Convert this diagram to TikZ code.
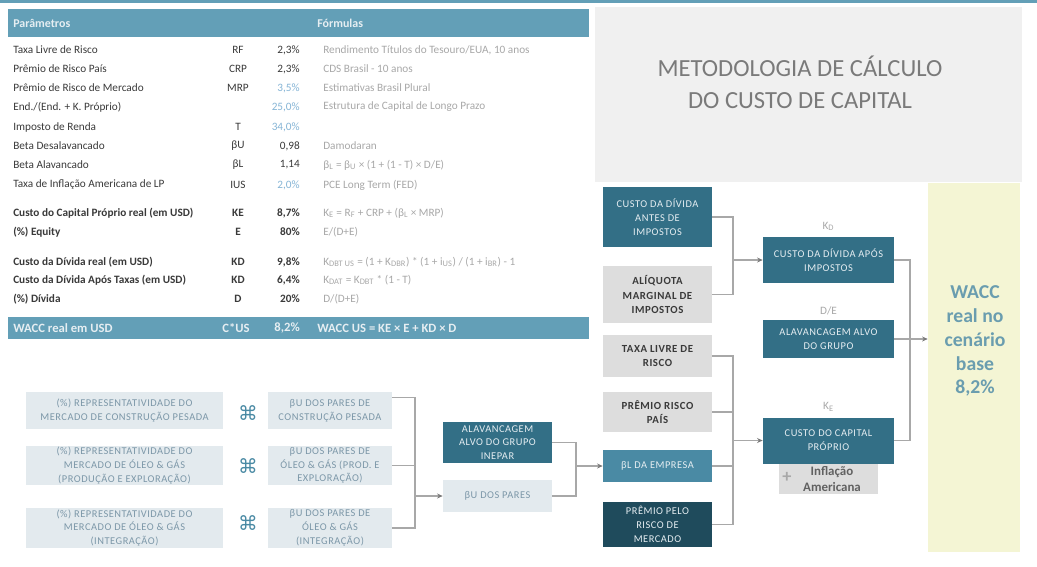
\documentclass[tikz,border=0pt]{standalone}
\usepackage{fontspec}
\setmainfont{Carlito}
\newfontfamily\symfont{DejaVu Sans}
\newfontfamily\boxfont{Carlito}[LetterSpace=5]
\usepackage{tikz}
\usetikzlibrary{positioning,arrows.meta}

\definecolor{tealhd}{HTML}{639FB7}
\definecolor{tealdk}{HTML}{336F86}
\definecolor{tealmd}{HTML}{4A8AA4}
\definecolor{tealnv}{HTML}{1F4B5C}
\definecolor{boxgrey}{HTML}{DDDDDD}
\definecolor{boxpale}{HTML}{E3EAEE}
\definecolor{waccbg}{HTML}{F4F5D4}
\definecolor{waccfg}{HTML}{6A9DAF}
\definecolor{titlebg}{HTML}{F0F0F0}
\definecolor{titlefg}{HTML}{7A7A7A}
\definecolor{linegrey}{HTML}{A8A8A8}
\definecolor{tipgrey}{HTML}{7A7A7A}
\definecolor{txtdark}{HTML}{3A3A3A}
\definecolor{txtlight}{HTML}{A8A8A8}
\definecolor{txtpale}{HTML}{7C97A8}
\definecolor{inputblue}{HTML}{86B5D6}
\definecolor{hdrtext}{HTML}{E6EEF2}

\begin{document}
\begin{tikzpicture}[x=0.025cm, y=-0.025cm,
    lbl/.style={anchor=west, inner sep=0, text=txtdark, font=\fontsize{8}{9}\selectfont},
    lblb/.style={lbl, font=\fontsize{8}{9}\selectfont\bfseries},
    sym/.style={inner sep=0, text=txtdark, font=\fontsize{8}{9}\selectfont},
    symb/.style={sym, font=\fontsize{8}{9}\selectfont\bfseries},
    val/.style={anchor=east, inner sep=0, text=txtdark, font=\fontsize{8}{9}\selectfont},
    valb/.style={val, font=\fontsize{8}{9}\selectfont\bfseries},
    inp/.style={val, text=inputblue},
    frm/.style={anchor=west, inner sep=0, text=txtlight, font=\fontsize{8}{9}\selectfont},
    hdr/.style={anchor=west, inner sep=0, text=hdrtext, font=\fontsize{8.5}{10}\selectfont\bfseries},
    box/.style={inner sep=1pt, align=center, font=\boxfont\fontsize{7.4}{9.8}\selectfont},
    darkbox/.style={box, fill=tealdk, text=hdrtext},
    greybox/.style={box, fill=boxgrey, text=txtdark, font=\boxfont\fontsize{7.7}{10.3}\selectfont\bfseries},
    palebox/.style={box, fill=boxpale, text=txtpale},
    tag/.style={text=txtlight, inner sep=0, font=\fontsize{8}{9}\selectfont},
    mult/.style={text=tealmd, inner sep=0, font=\symfont\fontsize{14}{14}\selectfont},
    conn/.style={draw=linegrey, line width=0.8pt},
    arr/.style={conn, -{Stealth[length=4pt, width=3.5pt, color=tipgrey]}},
]
\useasboundingbox (0,0) rectangle (1037,566);
\fill[white] (0,0) rectangle (1037,566);

% top rule
\fill[tealhd] (0,0) rectangle (1037,3);

% parameter table
\fill[tealhd] (8,9) rectangle (589,37);
\node[hdr] (hp) at (13,23) {Parâmetros};
\node[hdr] (hf) at (317,23) {Fórmulas};

\node[lbl] (r1) at (13,50) {Taxa Livre de Risco};
\node[sym] (r1s) at (238,50) {RF};
\node[val] (r1v) at (300,50) {2,3\%};
\node[frm] (r1f) at (323,50) {Rendimento Títulos do Tesouro/EUA, 10 anos};

\node[lbl] (r2) at (13,69) {Prêmio de Risco País};
\node[sym] (r2s) at (238,69) {CRP};
\node[val] (r2v) at (300,69) {2,3\%};
\node[frm] (r2f) at (323,69) {CDS Brasil - 10 anos};

\node[lbl] (r3) at (13,88) {Prêmio de Risco de Mercado};
\node[sym] (r3s) at (238,88) {MRP};
\node[inp] (r3v) at (300,88) {3,5\%};
\node[frm] (r3f) at (323,88) {Estimativas Brasil Plural};

\node[lbl] (r4) at (13,107) {End./(End. + K. Próprio)};
\node[inp] (r4v) at (300,107) {25,0\%};
\node[frm] (r4f) at (323,107) {Estrutura de Capital de Longo Prazo};

\node[lbl] (r5) at (13,127) {Imposto de Renda};
\node[sym] (r5s) at (238,127) {T};
\node[inp] (r5v) at (300,127) {34,0\%};

\node[lbl] (r6) at (13,146) {Beta Desalavancado};
\node[sym] (r6s) at (238,146) {βU};
\node[val] (r6v) at (300,146) {0,98};
\node[frm] (r6f) at (323,146) {Damodaran};

\node[lbl] (r7) at (13,165) {Beta Alavancado};
\node[sym] (r7s) at (238,165) {βL};
\node[val] (r7v) at (300,165) {1,14};
\node[frm] (r7f) at (323,165) {β\textsubscript{L} = β\textsubscript{U} × (1 + (1 - T) × D/E)};

\node[lbl] (r8) at (13,185) {Taxa de Inflação Americana de LP};
\node[sym] (r8s) at (238,185) {IUS};
\node[inp] (r8v) at (300,185) {2,0\%};
\node[frm] (r8f) at (323,185) {PCE Long Term (FED)};

\node[lblb] (r9) at (13,213) {Custo do Capital Próprio  real (em USD)};
\node[symb] (r9s) at (238,213) {KE};
\node[valb] (r9v) at (300,213) {8,7\%};
\node[frm] (r9f) at (323,213) {K\textsubscript{E} = R\textsubscript{F} + CRP + (β\textsubscript{L} × MRP)};

\node[lblb] (r10) at (13,232) {(\%) Equity};
\node[symb] (r10s) at (238,232) {E};
\node[valb] (r10v) at (300,232) {80\%};
\node[frm] (r10f) at (323,232) {E/(D+E)};

\node[lblb] (r11) at (13,262) {Custo da Dívida real (em USD)};
\node[symb] (r11s) at (238,262) {KD};
\node[valb] (r11v) at (300,262) {9,8\%};
\node[frm] (r11f) at (323,262) {K\textsubscript{DBT US} = (1 + K\textsubscript{DBR}) * (1 + i\textsubscript{US}) / (1 + i\textsubscript{BR}) - 1};

\node[lblb] (r12) at (13,280) {Custo da Dívida Após  Taxas (em USD)};
\node[symb] (r12s) at (238,280) {KD};
\node[valb] (r12v) at (300,280) {6,4\%};
\node[frm] (r12f) at (323,280) {K\textsubscript{DAT} = K\textsubscript{DBT} * (1 - T)};

\node[lblb] (r13) at (13,299) {(\%) Dívida};
\node[symb] (r13s) at (238,299) {D};
\node[valb] (r13v) at (300,299) {20\%};
\node[frm] (r13f) at (323,299) {D/(D+E)};

% result row
\fill[tealhd] (8,317) rectangle (589,339);
\node[hdr, font=\fontsize{9}{10}\selectfont\bfseries] (w1) at (13,328) {WACC real em USD};
\node[hdr, anchor=center, font=\fontsize{9}{10}\selectfont\bfseries] (w2) at (236,328) {C*US};
\node[hdr, anchor=east, font=\fontsize{9}{10}\selectfont\bfseries] (w3) at (300,328) {8,2\%};
\node[hdr, font=\fontsize{9}{10}\selectfont\bfseries] (w4) at (317,328) {WACC US = KE × E + KD × D};

% title
\fill[titlebg] (595,7) rectangle (1022,182);
\node[text=titlefg, align=center, font=\fontsize{17.5}{22.7}\selectfont] (title) at (800,82)
    {METODOLOGIA DE CÁLCULO\\DO CUSTO DE CAPITAL};

% result column
\node[fill=waccbg, minimum width=2.3cm, minimum height=9.225cm] (wacc) at (974,367.5) {};
\node[text=waccfg, align=center, font=\fontsize{14}{17}\selectfont\bfseries] (waccv) at (975,341)
    {WACC\\real no\\cenário\\base\\8,2\%};

% inputs
\node[darkbox, minimum width=2.725cm, minimum height=1.5cm] (kdb) at (657.5,217) {CUSTO DA DÍVIDA\\ANTES DE\\IMPOSTOS};
\node[greybox, minimum width=2.725cm, minimum height=1.425cm] (aliq) at (657.5,294.5) {ALÍQUOTA\\MARGINAL DE\\IMPOSTOS};
\node[greybox, minimum width=2.725cm, minimum height=1.05cm] (rf) at (657.5,356) {TAXA LIVRE DE\\RISCO};
\node[greybox, minimum width=2.725cm, minimum height=1cm] (crp) at (657.5,412) {PRÊMIO RISCO\\PAÍS};
\node[darkbox, fill=tealmd, minimum width=2.725cm, minimum height=0.8cm] (bl) at (657.5,466) {βL DA EMPRESA};
\node[darkbox, fill=tealnv, minimum width=2.725cm, minimum height=1.125cm] (mrp) at (657.5,524.5) {PRÊMIO PELO\\RISCO DE\\MERCADO};

% components
\node[greybox, minimum width=2.475cm, minimum height=0.975cm] (inf) at (828.5,474.5) {};
\node[text=txtdark!80, align=center, inner sep=0, font=\fontsize{9.2}{11.5}\selectfont\bfseries] (inft) at (832,479) {Inflação\\Americana};
\node[text=txtlight, inner sep=0, font=\fontsize{13}{13}\selectfont\bfseries] (plus) at (787,477) {+};
\node[darkbox, minimum width=3.275cm, minimum height=1.15cm] (kd) at (828.5,260) {CUSTO DA DÍVIDA APÓS\\IMPOSTOS};
\node[darkbox, minimum width=3.275cm, minimum height=0.95cm] (de) at (828.5,339) {ALAVANCAGEM ALVO\\DO GRUPO};
\node[darkbox, minimum width=3.275cm, minimum height=1.15cm] (ke) at (828.5,440.5) {CUSTO DO CAPITAL\\PRÓPRIO};
\node[tag, above=4pt of kd] (kdt) {K\textsubscript{D}};
\node[tag, above=3pt of de] (det) {D/E};
\node[tag, above=4pt of ke] (ket) {K\textsubscript{E}};

\coordinate (j1) at (733,260);
\coordinate (j2) at (733,440.5);
\coordinate (j3) at (910,339);
\draw[conn] (kdb.east) -| (j1) |- (aliq.east);
\draw[arr] (j1) -- (kd.west);
\draw[conn] (rf.east) -| (j2) |- (mrp.east);
\draw[conn] (crp.east) -- (crp.east -| j2);
\draw[conn] (bl.east) -- (bl.east -| j2);
\draw[arr] (j2) -- (ke.west);
\draw[conn] (kd.east) -| (j3) |- (ke.east);
\draw[arr] (de.east) -- (de.east -| wacc.west);

% peer betas
\node[palebox, minimum width=4.925cm, minimum height=0.925cm] (p1) at (124.5,410.5) {(\%) REPRESENTATIVIDADE  DO\\MERCADO DE CONSTRUÇÃO PESADA};
\node[palebox, minimum width=4.925cm, minimum height=0.975cm] (p2) at (124.5,465.5) {(\%) REPRESENTATIVIDADE  DO\\MERCADO DE ÓLEO \& GÁS\\(PRODUÇÃO E EXPLORAÇÃO)};
\node[palebox, minimum width=4.925cm, minimum height=1cm] (p3) at (124.5,528) {(\%) REPRESENTATIVIDADE  DO\\MERCADO DE ÓLEO \& GÁS\\(INTEGRAÇÃO)};
\node[mult] (x1) at (248,413) {⌘};
\node[mult] (x2) at (248,466) {⌘};
\node[mult] (x3) at (248,523) {⌘};
\node[palebox, minimum width=3.1cm, minimum height=0.925cm] (u1) at (330,410.5) {βU DOS PARES DE\\CONSTRUÇÃO PESADA};
\node[palebox, minimum width=3.1cm, minimum height=0.975cm] (u2) at (330,465.5) {βU DOS PARES DE\\ÓLEO \& GÁS (PROD. E\\EXPLORAÇÃO)};
\node[palebox, minimum width=3.1cm, minimum height=1cm] (u3) at (330,528) {βU DOS PARES DE\\ÓLEO \& GÁS\\(INTEGRAÇÃO)};
\node[darkbox, minimum width=2.725cm, minimum height=1.025cm] (alv) at (497.5,442.5) {ALAVANCAGEM\\ALVO DO GRUPO\\INEPAR};
\node[palebox, minimum width=2.725cm, minimum height=0.8cm] (up) at (497.5,496) {βU DOS PARES};

\coordinate (j4) at (415,496);
\coordinate (j5) at (576,466);
\draw[conn] ([yshift=9pt]u1.east) -| (j4) |- (u3.east);
\draw[conn] (u2.east) -- (u2.east -| j4);
\draw[arr] (j4) -- (up.west);
\draw[conn] (alv.east) -| (j5) |- (up.east);
\draw[arr] (j5) -- (bl.west);

\end{tikzpicture}
\end{document}
